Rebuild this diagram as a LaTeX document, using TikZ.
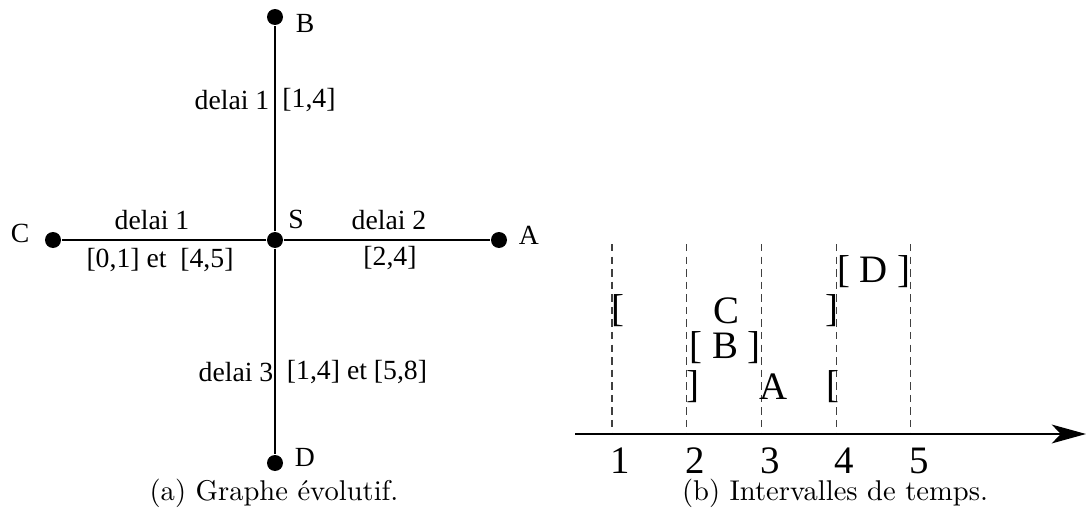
\documentclass[tikz,border=0pt]{standalone}
\usepackage{fontspec}
\newfontfamily\figfont{Liberation Serif}
\usetikzlibrary{arrows.meta,positioning}

\begin{document}
\begin{tikzpicture}[x=0.35pt,y=-0.35pt,
  vertex/.style={circle,fill=black,inner sep=0pt,minimum size=5.6pt},
  lbl/.style={font=\figfont\fontsize{9.7}{11}\selectfont,inner sep=1pt},
  big/.style={font=\figfont\fontsize{13.6}{15}\selectfont,inner sep=0pt},
  caption/.style={anchor=base,inner sep=0pt},
  edge/.style={line width=0.5pt},
  guide/.style={line width=0.4pt,black!75,dash pattern=on 2.6pt off 1.8pt}]
  \useasboundingbox (0,0) rectangle (1086,515);

  % (a) graphe
  \node[vertex] (S) at (275,240) {};
  \node[vertex] (A) at (499,240) {};
  \node[vertex] (B) at (275,17) {};
  \node[vertex] (C) at (53,240) {};
  \node[vertex] (D) at (275,463) {};
  \draw[edge] (S) -- (A);
  \draw[edge] (S) -- (B);
  \draw[edge] (S) -- (C);
  \draw[edge] (S) -- (D);
  \node[lbl] (nS) at (296,219) {S};
  \node[lbl] (nA) at (529,235) {A};
  \node[lbl] (nB) at (305,23) {B};
  \node[lbl] (nC) at (20,233) {C};
  \node[lbl] (nD) at (305,457) {D};
  \node[lbl] (dB) at (232,100) {delai 1};
  \node[lbl] (iB) at (309,100) {[1,4]};
  \node[lbl] (dC) at (152,220) {delai 1};
  \node[lbl] (iC) at (160,260) {[0,1] et\ \ [4,5]};
  \node[lbl] (dA) at (389,220) {delai 2};
  \node[lbl] (iA) at (390,258) {[2,4]};
  \node[lbl] (dD) at (236,372) {delai 3};
  \node[lbl] (iD) at (357,372) {[1,4] et [5,8]};
  \node[caption] (capa) at (274,500) {(a) Graphe évolutif.};

  % (b) intervalles
  \coordinate (t0) at (575,434);
  \coordinate (t1) at (1086,434);
  \foreach \k in {1,...,5} {
    \pgfmathsetmacro{\xk}{537.3+74.7*\k}
    \coordinate (g\k) at (\xk,244);
    \coordinate (h\k) at (\xk,434);
    \draw[guide] (g\k) -- (h\k);
    \node[big] (n\k) at (\xk+8.5,461) {\k};
  }
  \draw[line width=0.7pt,-{Stealth[length=12pt,width=6.6pt,inset=3.2pt]}] (t0) -- (t1);
  \node[big] (iD) at (874,272) {[\ D\ ]};
  \node[big] (cL) at (617.7,311) {[};
  \node[big] (cC) at (726.7,311) {C};
  \node[big] (cR) at (832.3,311) {]};
  \node[big] (iB) at (725,348) {[\ B\ ]};
  \node[big] (aL) at (692.7,387) {]};
  \node[big] (aA) at (774,387) {A};
  \node[big] (aR) at (833.3,387) {[};
  \node[caption] (capb) at (835,500) {(b) Intervalles de temps.};
\end{tikzpicture}
\end{document}
